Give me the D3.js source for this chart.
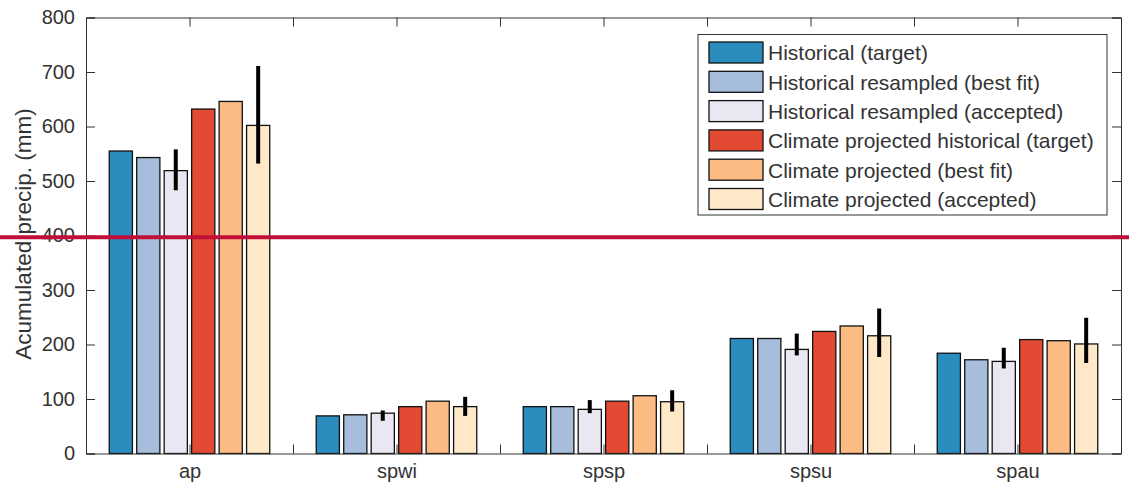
<!DOCTYPE html>
<html>
<head>
<meta charset="utf-8">
<script src="https://cdn.jsdelivr.net/npm/d3@7"></script>
<style>
  body { margin: 0; background: #fff; }
  text { font-family: "Liberation Sans", Arial, sans-serif; fill: #333; }
</style>
</head>
<body>
<div id="chart"></div>
<script>
const categories = ["ap", "spwi", "spsp", "spsu", "spau"];
const seriesNames = [
  "Historical (target)",
  "Historical resampled (best fit)",
  "Historical resampled (accepted)",
  "Climate projected historical (target)",
  "Climate projected (best fit)",
  "Climate projected (accepted)"
];
const colors = ["#2b8cbe", "#a6bddb", "#ebe7f2", "#e34a33", "#fdbb84", "#fee8c8"];

// one array per series, values per category
const histTarget   = [555, 69, 86, 211, 184];
const histBest     = [543, 71, 86, 211, 172];
const histAccepted = [519, 74, 81, 191, 169];
const climTarget   = [632, 86, 96, 224, 209];
const climBest     = [646, 96, 106, 234, 207];
const climAccepted = [602, 86, 95, 216, 201];
const values = [histTarget, histBest, histAccepted, climTarget, climBest, climAccepted];

// error bars [low, high] on the "accepted" series (index 2 and 5)
const histAccErr = [[483, 558], [60, 79], [74, 98], [180, 220], [156, 194]];
const climAccErr = [[532, 711], [69, 104], [77, 116], [177, 266], [166, 249]];
const errors = {2: histAccErr, 5: climAccErr};

const yTicks = [0, 100, 200, 300, 400, 500, 600, 700, 800];
const refLine = 397;

const w = 1129, h = 499;
const mLeft = 86, mRight = 1121, mTop = 17.5, mBottom = 453.5;

const svg = d3.select("#chart").append("svg")
  .attr("width", w).attr("height", h);

const x = d3.scaleLinear().domain([0.5, 5.5]).range([mLeft, mRight]);
const y = d3.scaleLinear().domain([0, 800]).range([mBottom, mTop]);

const step = 0.1327, barW = 0.112;

// bars
values.forEach((series, s) => {
  svg.append("g").selectAll("rect")
    .data(series)
    .join("rect")
      .attr("x", (d, i) => x(i + 1 + (s - 2.5) * step - barW / 2))
      .attr("width", x(barW) - x(0))
      .attr("y", d => y(d))
      .attr("height", d => y(0) - y(d))
      .attr("fill", colors[s])
      .attr("stroke", "#111")
      .attr("stroke-width", 1.3);
});

// error bars
Object.keys(errors).forEach(k => {
  const s = +k;
  svg.append("g").selectAll("line")
    .data(errors[k])
    .join("line")
      .attr("x1", (d, i) => x(i + 1 + (s - 2.5) * step))
      .attr("x2", (d, i) => x(i + 1 + (s - 2.5) * step))
      .attr("y1", d => y(d[0]))
      .attr("y2", d => y(d[1]))
      .attr("stroke", "#000")
      .attr("stroke-width", 4);
});

// axes (ticks inside, box on)
const xTickVals = d3.range(1, 5.01, 0.5);
const axisColor = "#333";

const yAxis = d3.axisLeft(y).tickValues(yTicks).tickSize(-9).tickPadding(11);
const gy = svg.append("g").attr("transform", `translate(${mLeft},0)`).call(yAxis);
gy.selectAll("text").style("font-size", "20px");

const yAxisR = d3.axisRight(y).tickValues(yTicks).tickSize(-9).tickFormat("");
svg.append("g").attr("transform", `translate(${mRight},0)`).call(yAxisR);

const xAxis = d3.axisBottom(x).tickValues(xTickVals).tickSize(-9).tickPadding(10)
  .tickFormat(d => Number.isInteger(d) ? categories[d - 1] : "");
const gx = svg.append("g").attr("transform", `translate(0,${mBottom})`).call(xAxis);
gx.selectAll("text").style("font-size", "20px");

const xAxisT = d3.axisTop(x).tickValues(xTickVals).tickSize(-9).tickFormat("");
svg.append("g").attr("transform", `translate(0,${mTop})`).call(xAxisT);

svg.selectAll(".domain, .tick line").attr("stroke", axisColor);

// y label
svg.append("text")
  .attr("transform", `translate(31,234) rotate(-90)`)
  .attr("text-anchor", "middle")
  .style("font-size", "22.5px")
  .text("Acumulated precip. (mm)");

// legend
const lg = svg.append("g");
lg.append("rect")
  .attr("x", 698).attr("y", 34.5).attr("width", 409).attr("height", 180.5)
  .attr("fill", "#fff").attr("stroke", "#333").attr("stroke-width", 1);
seriesNames.forEach((name, i) => {
  const cy = 52.5 + i * 29.3;
  lg.append("rect")
    .attr("x", 709).attr("y", cy - 10.5).attr("width", 54).attr("height", 21)
    .attr("fill", colors[i]).attr("stroke", "#111").attr("stroke-width", 1.3);
  lg.append("text")
    .attr("x", 768).attr("y", cy).attr("dy", "0.38em")
    .style("font-size", "21px")
    .text(name);
});

// red reference line across the whole picture
svg.append("line")
  .attr("x1", 0).attr("x2", w)
  .attr("y1", y(refLine)).attr("y2", y(refLine))
  .attr("stroke", "#c10f3a").attr("stroke-width", 4);
</script>
</body>
</html>
